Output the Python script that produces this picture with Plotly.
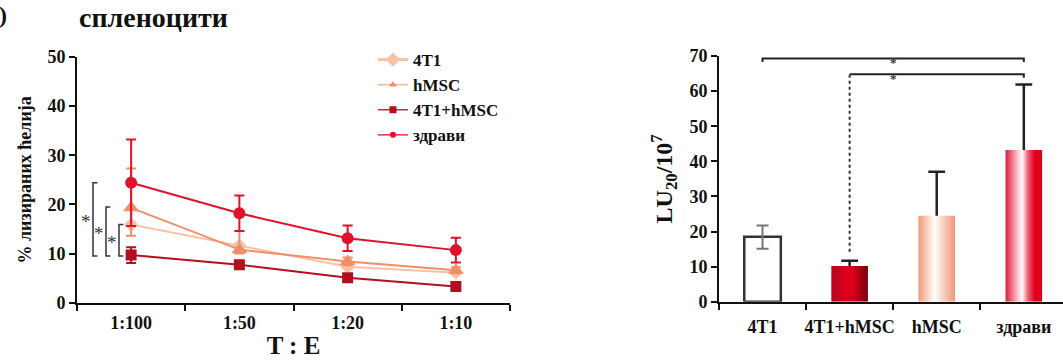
import plotly.graph_objects as go

# ---------------- data ----------------
ratios = ["1:100", "1:50", "1:20", "1:10"]
vals_4T1 = [15.9, 11.6, 7.3, 6.1]
vals_hMSC = [19.3, 10.8, 8.4, 6.6]
vals_4T1_hMSC = [9.7, 7.7, 5.1, 3.3]
vals_healthy = [24.4, 18.2, 13.1, 10.7]
err_4T1 = [0.4, 0.4, 0.4, 0.4]
err_hMSC_plus = [8.0, 3.8, 0.8, 0.6]
err_hMSC_minus = [5.7, 0.8, 0.8, 0.6]
err_4T1_hMSC = [1.6, 0.6, 0.6, 0.6]
err_healthy = [8.8, 3.6, 2.6, 2.5]

bar_categories = ["4T1", "4T1+hMSC", "hMSC", "здрави"]
bar_values = [18.5, 10.2, 24.5, 43.2]
bar_err_plus = [3.2, 1.5, 12.5, 18.7]
bar_err_minus = [3.4, 0.0, 0.0, 0.0]

FONT = "Liberation Serif"
W, H = 1063, 362
BLACK = "#111111"

fig = go.Figure()

# ---------------- left: line chart ----------------
series = [
    ("4T1", vals_4T1, err_4T1, err_4T1, "#F8C2A6", "diamond", 11, 11, 3),
    ("hMSC", vals_hMSC, err_hMSC_plus, err_hMSC_minus, "#F08E68", "triangle-up", 14, 7, 1.5),
    ("4T1+hMSC", vals_4T1_hMSC, err_4T1_hMSC, err_4T1_hMSC, "#B3101F", "square", 11, 7, 1.5),
    ("здрави", vals_healthy, err_healthy, err_healthy, "#E3102B", "circle", 12, 6, 1.5),
]
legend_line_colors = ["#F8C2A6", "#F7B49A", "#C8283E", "#E8304A"]
xs = list(range(len(ratios)))
for name, vals, ep, em, col, sym, size, lsize, lw in series:
    fig.add_trace(go.Scatter(
        x=xs, y=vals, name=name, mode="lines+markers",
        line=dict(color=col, width=2),
        marker=dict(color=col, symbol=sym, size=size),
        error_y=dict(type="data", array=ep, arrayminus=em, color=col,
                     thickness=2, width=5),
        xaxis="x", yaxis="y", showlegend=False,
    ))
# legend entries (smaller markers, as in the reference legend)
for (name, vals, ep, em, col, sym, size, lsize, lw), lc in zip(series, legend_line_colors):
    fig.add_trace(go.Scatter(
        x=[None], y=[None], name=name, mode="lines+markers",
        line=dict(color=lc, width=lw),
        marker=dict(color=col, symbol=sym, size=lsize),
        xaxis="x", yaxis="y", showlegend=True,
    ))

# significance brackets (left)
tip = 0.04
brackets = [(-0.352, vals_healthy[0], vals_4T1_hMSC[0] - 0.2),
            (-0.232, vals_hMSC[0] + 0.2, vals_4T1_hMSC[0] - 0.2),
            (-0.112, vals_4T1[0], vals_4T1_hMSC[0] - 0.2)]
for bx, ytop, ybot in brackets:
    fig.add_shape(type="path", xref="x", yref="y",
                  path=f"M {bx+tip},{ytop} L {bx},{ytop} L {bx},{ybot} L {bx+tip},{ybot}",
                  line=dict(color="#333333", width=1.5))
    fig.add_annotation(x=bx - 0.065, y=(ytop + ybot) / 2 - 0.4, xref="x", yref="y",
                       text="*", showarrow=False,
                       font=dict(family=FONT, size=19, color="#333333"))

# ---------------- right: bar chart ----------------
bar_w = 0.42
bar_styles = [
    dict(fill="white", line="#333333", lw=2.5, scale=None),
    dict(scale=[[0, "#B0061C"], [0.4, "#E2001B"], [0.6, "#D8001A"], [1, "#760010"]]),
    dict(scale=[[0, "#F29A77"], [0.45, "#FFFFFF"], [0.58, "#FBE3D8"], [1, "#F0967A"]]),
    dict(scale=[[0, "#E21A3C"], [0.45, "#FFFFFF"], [0.62, "#EE5A70"], [0.8, "#E4001C"], [1, "#E2001B"]]),
]
for i, (cat, v) in enumerate(zip(bar_categories, bar_values)):
    st = bar_styles[i]
    x0, x1 = i - bar_w / 2, i + bar_w / 2
    kw = dict(x=[x0, x0, x1, x1, x0], y=[0, v, v, 0, 0], mode="lines",
              fill="toself", xaxis="x2", yaxis="y2", showlegend=False,
              hoverinfo="skip", name=cat)
    if st["scale"] is None:
        kw["fillcolor"] = st["fill"]
        kw["line"] = dict(color=st["line"], width=st["lw"])
    else:
        kw["fillgradient"] = dict(type="horizontal", colorscale=st["scale"])
        kw["line"] = dict(width=0)
    fig.add_trace(go.Scatter(**kw))

# error bars on bars: 4T1 two-sided (grey)
fig.add_trace(go.Scatter(
    x=[0], y=[bar_values[0]], mode="markers", marker=dict(size=1, opacity=0),
    error_y=dict(type="data", array=[bar_err_plus[0]], arrayminus=[bar_err_minus[0]],
                 color="#777777", thickness=2, width=6),
    xaxis="x2", yaxis="y2", showlegend=False, hoverinfo="skip"))
# others: upper only (stem via error bar without caps, cap as a marker)
up_x = [1, 2, 3]
up_y = bar_values[1:]
up_top = [v + e for v, e in zip(bar_values[1:], bar_err_plus[1:])]
fig.add_trace(go.Scatter(
    x=up_x, y=up_y, mode="markers", marker=dict(size=1, opacity=0),
    error_y=dict(type="data", array=bar_err_plus[1:], arrayminus=[0, 0, 0],
                 color="#222222", thickness=2.5, width=0),
    xaxis="x2", yaxis="y2", showlegend=False, hoverinfo="skip"))
fig.add_trace(go.Scatter(
    x=up_x, y=up_top, mode="markers",
    marker=dict(symbol="line-ew", size=12, line=dict(color="#222222", width=2.5)),
    xaxis="x2", yaxis="y2", showlegend=False, hoverinfo="skip"))

# significance (right)
fig.add_shape(type="path", xref="x2", yref="y2",
              path="M 0,68.3 L 0,69.3 L 3,69.3 L 3,68.3",
              line=dict(color="#222222", width=2))
fig.add_shape(type="path", xref="x2", yref="y2",
              path="M 1,64.8 L 3,64.8 L 3,63.8",
              line=dict(color="#222222", width=2))
fig.add_shape(type="line", xref="x2", yref="y2", x0=1, x1=1,
              y0=bar_values[1] + 4.0, y1=64.8,
              line=dict(color="#333333", width=2, dash="dot"))
for yy in [70.8, 66.4]:
    fig.add_annotation(x=1.5, y=yy / 70, xref="x2", yref="y2 domain", text="*",
                       showarrow=False,
                       font=dict(family=FONT, size=13, color="#333333", weight="bold"))

# ---------------- layout ----------------
tickfont = dict(family=FONT, size=18, color=BLACK, weight="bold")
common_y = dict(showline=True, linecolor=BLACK, linewidth=2, ticks="outside",
                ticklen=6, tickwidth=2, tickcolor=BLACK, showgrid=False,
                zeroline=False, tickfont=tickfont, dtick=10, automargin=False)
minor = dict(tick0=-0.5, dtick=1, ticks="outside", ticklen=6, tickwidth=2,
             tickcolor=BLACK, showgrid=False)

fig.update_layout(
    width=W, height=H, margin=dict(l=0, r=0, t=0, b=0, autoexpand=False),
    paper_bgcolor="white", plot_bgcolor="white",
    font=dict(family=FONT, color=BLACK),
    xaxis=dict(domain=[77 / W, 510 / W], range=[-0.5, 3.5], tickvals=xs,
               ticktext=ratios, ticks="", showline=True, linecolor=BLACK,
               linewidth=2, showgrid=False, zeroline=False, minor=minor,
               tickfont=tickfont, ticklabelstandoff=3, automargin=False,
               title=dict(text="T : E", standoff=4,
                          font=dict(family=FONT, size=25, color=BLACK, weight="bold"))),
    yaxis=dict(domain=[1 - 302.7 / H, 1 - 57 / H], range=[0, 50],
               title=dict(text="% лизираних ћелија", standoff=11,
                          font=dict(family=FONT, size=18, color=BLACK, weight="bold")),
               **common_y),
    xaxis2=dict(domain=[719 / W, 1.0], range=[-0.5, 3.45], tickvals=[0, 1, 2, 3],
                ticktext=bar_categories, ticks="", showline=True, linecolor=BLACK,
                linewidth=2, showgrid=False, zeroline=False, minor=minor,
                ticklabelstandoff=8, tickfont=tickfont, anchor="y2", automargin=False),
    yaxis2=dict(domain=[1 - 301.7 / H, 1 - 56 / H], range=[0, 70], anchor="x2",
                title=dict(text="LU<sub>20</sub>/10<sup>7</sup>", standoff=10,
                           font=dict(family=FONT, size=24, color=BLACK, weight="bold")),
                **common_y),
    legend=dict(x=373 / W, y=1 - 42 / H, xanchor="left", yanchor="top",
                bgcolor="rgba(0,0,0,0)",
                font=dict(family=FONT, size=17, color=BLACK, weight="bold"),
                tracegroupgap=0, itemwidth=30),
    showlegend=True,
)

fig.add_annotation(x=77 / W, y=1 - 17 / H, xref="paper", yref="paper",
                   text="спленоцити", showarrow=False, xanchor="left", yanchor="middle",
                   font=dict(family=FONT, size=28, color=BLACK, weight="bold"))
fig.add_annotation(x=-3 / W, y=1 - 15 / H, xref="paper", yref="paper",
                   text=")", showarrow=False, xanchor="left", yanchor="middle",
                   font=dict(family=FONT, size=24, color=BLACK, weight="bold"))

fig.write_html(
    "out.html",
    config={"displayModeBar": False},
    post_script="document.body.style.margin='0';document.body.style.overflow='hidden';",
)
